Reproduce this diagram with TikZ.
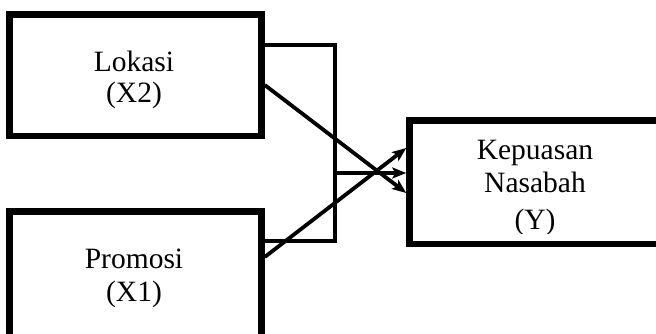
\documentclass[tikz,border=0pt]{standalone}
\usepackage{fontspec}
\setmainfont{Liberation Serif}
\usetikzlibrary{arrows.meta}

\tikzset{
  varbox/.style={draw=black, line width=6.5pt, rectangle, inner sep=0pt, fill=white},
  label/.style={anchor=base, inner sep=0pt, font=\fontsize{29.5}{33}\selectfont},
  conn/.style={draw=black, line width=3.8pt},
  arr/.style={conn, -{Stealth[length=14pt,width=11pt,inset=3pt]}}
}

\begin{document}
\begin{tikzpicture}[x=1pt, y=-1pt]
  \useasboundingbox (0,0) rectangle (656,334);
  \fill[white] (0,0) rectangle (656,334);
  \clip (0,0) rectangle (656,334);

  % variable boxes (the lower and right ones run past the page edge)
  \node[varbox, minimum width=252pt, minimum height=121.5pt] (lok) at (135.5,75.25) {};
  \node[varbox, minimum width=252pt, minimum height=200pt]   (pro) at (135.5,311.5) {};
  \node[varbox, minimum width=350pt, minimum height=123.5pt] (kep) at (584.5,182.25) {};

  % box captions
  \node[label] (lokA) at (134,72)  {Lokasi};
  \node[label] (lokB) at (134,103) {(X2)};
  \node[label] (proA) at (134,268) {Promosi};
  \node[label] (proB) at (134,301) {(X1)};
  \node[label] (kepA) at (535,160) {Kepuasan};
  \node[label] (kepB) at (535,193) {Nasabah};
  \begin{scope}
    \clip (420,200) rectangle (650,233);
    \node[label] (kepC) at (535,229) {(Y)};
  \end{scope}

  % joint-effect bracket
  \coordinate (bt) at (335,45);
  \coordinate (bb) at (335,241);
  \coordinate (bm) at (335,173);
  \draw[conn] (lok.east |- bt) -- (bt) -- (bb) -- (pro.east |- bb);
  \draw[arr] (bm) -- (kep.west |- bm);

  % partial effects
  \coordinate (lo) at (0,85);
  \coordinate (po) at (0,257);
  \coordinate (ki) at (0,193);
  \coordinate (kh) at (0,148);
  \draw[arr] (lok.east |- lo) -- (kep.west |- ki);
  \draw[arr] (pro.east |- po) -- (kep.west |- kh);
\end{tikzpicture}
\end{document}
